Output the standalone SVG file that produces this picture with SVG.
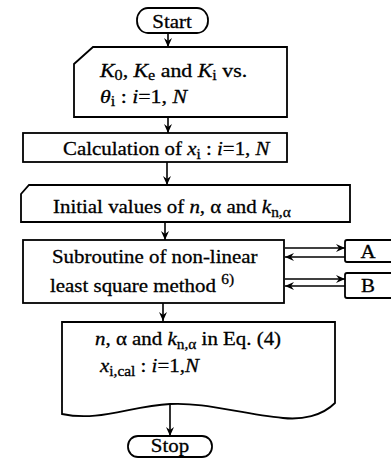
<svg xmlns="http://www.w3.org/2000/svg" width="391" height="464" viewBox="0 0 391 464">
<style>
.s{fill:#fff;stroke:#000;stroke-width:1.8}
.t{font-family:"Liberation Serif","Times New Roman",serif;font-size:19px;fill:#000;stroke:#000;stroke-width:0.3}
.i{font-style:italic}
.c{stroke:#000;stroke-width:1.6;fill:none}
</style>
<defs>
<marker id="ah" markerUnits="userSpaceOnUse" markerWidth="10" markerHeight="9" refX="9" refY="4" orient="auto">
<path d="M0,0 L9,4 L0,8 L3,4 Z" fill="#000"/>
</marker>
</defs>
<rect width="391" height="464" fill="#fff"/>
<g id="connectors">
<line class="c" x1="168" y1="34" x2="168" y2="47" marker-end="url(#ah)"/>
<line class="c" x1="168" y1="117" x2="168" y2="133" marker-end="url(#ah)"/>
<line class="c" x1="167" y1="162" x2="167" y2="185" marker-end="url(#ah)"/>
<line class="c" x1="165" y1="222" x2="165" y2="240" marker-end="url(#ah)"/>
<line class="c" x1="163" y1="303" x2="163" y2="321" marker-end="url(#ah)"/>
<line class="c" x1="170" y1="405" x2="170" y2="436" marker-end="url(#ah)"/>
<line class="c" x1="285" y1="248" x2="345" y2="248" marker-end="url(#ah)"/>
<line class="c" x1="345" y1="257" x2="285" y2="257" marker-end="url(#ah)"/>
<line class="c" x1="285" y1="279" x2="345" y2="279" marker-end="url(#ah)"/>
<line class="c" x1="345" y1="286" x2="285" y2="286" marker-end="url(#ah)"/>
</g>
<g id="start">
<rect class="s" x="137" y="8" width="71" height="25" rx="11" ry="12"/>
<text class="t" transform="translate(172,28) scale(1.1,1)" text-anchor="middle">Start</text>
</g>
<g id="input">
<path class="s" d="M93,47 L287,47 L287,117 L74,117 L74,64 Z"/>
<text class="t" transform="translate(100,77) scale(1.15,1)"><tspan class="i">K</tspan><tspan font-size="14" dy="3">0</tspan><tspan dy="-3">, </tspan><tspan class="i">K</tspan><tspan font-size="14" dy="3">e</tspan><tspan dy="-3"> and </tspan><tspan class="i">K</tspan><tspan font-size="14" dy="3">i</tspan><tspan dy="-3"> vs.</tspan></text>
<text class="t" transform="translate(100,103) scale(1.15,1)"><tspan class="i">θ</tspan><tspan font-size="14" dy="3">i</tspan><tspan dy="-3"> : </tspan><tspan class="i">i</tspan>=1, <tspan class="i">N</tspan></text>
</g>
<g id="calc">
<rect class="s" x="23" y="133" width="264" height="29"/>
<text class="t" transform="translate(63,155) scale(1.1,1)">Calculation of <tspan class="i">x</tspan><tspan font-size="14" dy="4">i</tspan><tspan dy="-4"> : </tspan><tspan class="i">i</tspan>=1, <tspan class="i">N</tspan></text>
</g>
<g id="initial">
<path class="s" d="M29,185 L350,185 L350,222 L21,222 L21,194 Z"/>
<text class="t" transform="translate(53,213) scale(1.1,1)">Initial values of <tspan class="i">n</tspan>, α and <tspan class="i">k</tspan><tspan font-size="14" dy="4">n,α</tspan></text>
</g>
<g id="subroutine">
<rect class="s" x="23" y="240" width="261" height="63"/>
<text class="t" transform="translate(52,263) scale(1.1,1)">Subroutine of non-linear</text>
<text class="t" transform="translate(50,292) scale(1.1,1)">least square method <tspan font-size="14" dy="-8">6)</tspan></text>
</g>
<g id="A">
<rect class="s" x="345" y="240" width="60" height="22" rx="2"/>
<text class="t" transform="translate(368,258) scale(1.1,1)" text-anchor="middle">A</text>
</g>
<g id="B">
<rect class="s" x="345" y="273" width="60" height="25" rx="2"/>
<text class="t" transform="translate(368,292) scale(1.1,1)" text-anchor="middle">B</text>
</g>
<g id="output">
<path class="s" d="M62,322 L335,322 L335,403 C322,416 302,420 283,418 C240,414 205,402 170,404 C130,406 100,422 62,414 Z"/>
<text class="t" transform="translate(95,345) scale(1.1,1)"><tspan class="i">n</tspan>, α and <tspan class="i">k</tspan><tspan font-size="14" dy="4">n,α</tspan><tspan dy="-4"> in Eq.  (4)</tspan></text>
<text class="t" transform="translate(100,372) scale(1.1,1)"><tspan class="i">x</tspan><tspan font-size="14" dy="4">i,cal</tspan><tspan dy="-4"> : </tspan><tspan class="i">i</tspan>=1,<tspan class="i">N</tspan></text>
</g>
<g id="stop">
<rect class="s" x="128" y="436" width="84" height="21" rx="10"/>
<text class="t" transform="translate(170,452) scale(1.1,1)" text-anchor="middle">Stop</text>
</g>
</svg>
